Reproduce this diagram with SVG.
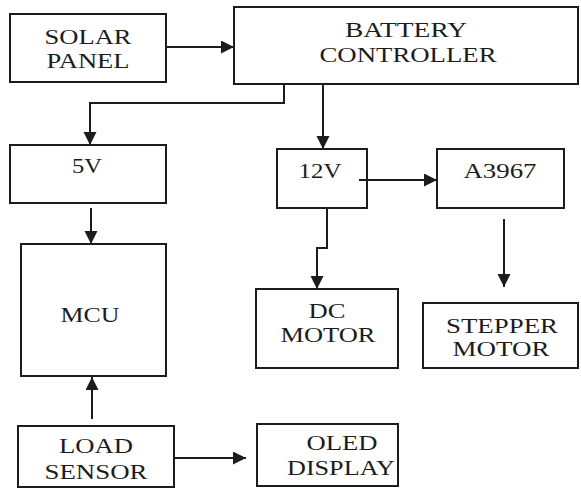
<svg xmlns="http://www.w3.org/2000/svg" width="581" height="488" viewBox="0 0 581 488">
<style>
.box{fill:#fff;stroke:#1c1c1c;stroke-width:2}
.lbl{font-family:"Liberation Serif","Times New Roman","DejaVu Serif",serif;font-size:20px;fill:#1c1c1c;text-anchor:middle}
.wire{fill:none;stroke:#1c1c1c;stroke-width:2}
</style>
<defs>
<marker id="ah" markerUnits="userSpaceOnUse" markerWidth="14" markerHeight="14" refX="13" refY="6.5" orient="auto">
<path d="M0,0 L13,6.5 L0,13 Z" fill="#1c1c1c"/>
</marker>
</defs>
<rect width="581" height="488" fill="#fff"/>
<g id="solar-panel">
<rect class="box" x="10" y="14" width="156" height="68"/>
<text class="lbl" x="88" y="44" textLength="87" lengthAdjust="spacingAndGlyphs">SOLAR</text>
<text class="lbl" x="88" y="68" textLength="83" lengthAdjust="spacingAndGlyphs">PANEL</text>
</g>
<g id="battery-controller">
<rect class="box" x="234" y="7" width="344" height="77"/>
<text class="lbl" x="406" y="37" textLength="122" lengthAdjust="spacingAndGlyphs">BATTERY</text>
<text class="lbl" x="408" y="62" textLength="177" lengthAdjust="spacingAndGlyphs">CONTROLLER</text>
</g>
<g id="v5">
<rect class="box" x="10" y="145" width="156" height="58"/>
<text class="lbl" x="87" y="173" textLength="30" lengthAdjust="spacingAndGlyphs">5V</text>
</g>
<g id="mcu">
<rect class="box" x="21" y="244" width="145" height="132"/>
<text class="lbl" x="90" y="322" textLength="59" lengthAdjust="spacingAndGlyphs">MCU</text>
</g>
<g id="v12">
<rect class="box" x="277" y="149" width="90" height="59"/>
<text class="lbl" x="320" y="178" textLength="43" lengthAdjust="spacingAndGlyphs">12V</text>
</g>
<g id="a3967">
<rect class="box" x="437" y="149" width="127" height="59"/>
<text class="lbl" x="500" y="178" textLength="73" lengthAdjust="spacingAndGlyphs">A3967</text>
</g>
<g id="dc-motor">
<rect class="box" x="256" y="289" width="142" height="79"/>
<text class="lbl" x="327" y="318" textLength="37" lengthAdjust="spacingAndGlyphs">DC</text>
<text class="lbl" x="328" y="342" textLength="95" lengthAdjust="spacingAndGlyphs">MOTOR</text>
</g>
<g id="stepper-motor">
<rect class="box" x="423" y="303" width="155" height="65"/>
<text class="lbl" x="502" y="333" textLength="112" lengthAdjust="spacingAndGlyphs">STEPPER</text>
<text class="lbl" x="501" y="356" textLength="97" lengthAdjust="spacingAndGlyphs">MOTOR</text>
</g>
<g id="load-sensor">
<rect class="box" x="18" y="426" width="156" height="61"/>
<text class="lbl" x="96" y="453" textLength="74" lengthAdjust="spacingAndGlyphs">LOAD</text>
<text class="lbl" x="96" y="479" textLength="103" lengthAdjust="spacingAndGlyphs">SENSOR</text>
</g>
<g id="oled-display">
<rect class="box" x="257" y="424" width="141" height="62"/>
<text class="lbl" x="342" y="450" textLength="71" lengthAdjust="spacingAndGlyphs">OLED</text>
<text class="lbl" x="341" y="475" textLength="108" lengthAdjust="spacingAndGlyphs">DISPLAY</text>
</g>
<g id="connectors">
<path class="wire" d="M166,47 H234" marker-end="url(#ah)"/>
<path class="wire" d="M284,84 V103 H90 V145" marker-end="url(#ah)"/>
<path class="wire" d="M323,84 V149" marker-end="url(#ah)"/>
<path class="wire" d="M91,208 V244" marker-end="url(#ah)"/>
<path class="wire" d="M359,180 H437" marker-end="url(#ah)"/>
<path class="wire" d="M327,208 V248 H317 V289" marker-end="url(#ah)"/>
<path class="wire" d="M504,219 V287" marker-end="url(#ah)"/>
<path class="wire" d="M92,419 V377" marker-end="url(#ah)"/>
<path class="wire" d="M174,458 H246" marker-end="url(#ah)"/>
</g>
</svg>
